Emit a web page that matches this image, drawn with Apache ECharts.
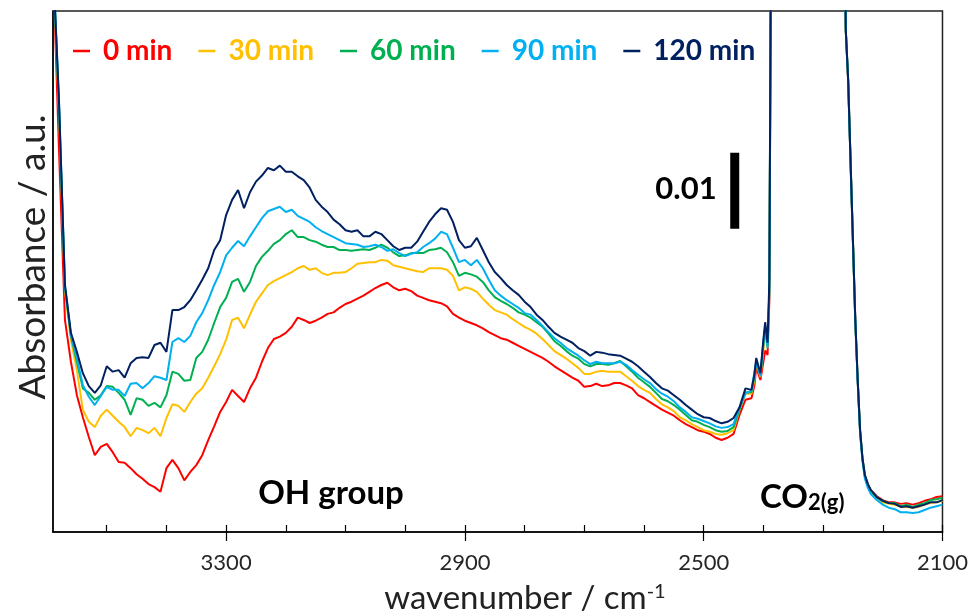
<!DOCTYPE html>
<html>
<head>
<meta charset="utf-8">
<script src="https://cdn.jsdelivr.net/npm/echarts@6/dist/echarts.min.js"></script>
<style>
  html, body { margin: 0; padding: 0; background: #fff; }
  #chart { width: 971px; height: 615px; }
</style>
</head>
<body>
<div id="chart"></div>
<script>
// wavenumber grid, cm-1 (left edge 3590, CO2 band goes off scale)
var wavenumbers = [3590,
  3580,3570,3560,3550,3540,3530,3520,3510,3500,3490,
  3480,3470,3460,3450,3440,3430,3420,3410,3400,3390,
  3380,3370,3360,3350,3340,3330,3320,3310,3300,3290,
  3280,3270,3260,3250,3240,3230,3220,3210,3200,3190,
  3180,3170,3160,3150,3140,3130,3120,3110,3100,3090,
  3080,3070,3060,3050,3040,3030,3020,3010,3000,2990,
  2980,2970,2960,2950,2940,2930,2920,2910,2900,2890,
  2880,2870,2860,2850,2840,2830,2820,2810,2800,2790,
  2780,2770,2760,2750,2740,2730,2720,2710,2700,2690,
  2680,2670,2660,2650,2640,2630,2620,2610,2600,2590,
  2580,2570,2560,2550,2540,2530,2520,2510,2500,2490,
  2480,2470,2460,2450,2440,2430,2420,
  2415,2412,2405,2400,2397,2393,2390,
  2386,2380,2300,2266,
  2262,2258,2254,2250,2246,2242,2238,2234,2230,2225,2220,
  2210,2200,2190,2180,2170,2160,2150,2140,2130,2120,2110,2100];

// absorbance in units of 0.001 a.u. (arbitrary baseline)
var abs0 = [75,
  50.3,27.9,22.4,18.0,15.1,12.5,10.1,11.2,11.6,10.5,
  9.2,9.1,8.4,7.6,7.0,6.3,5.9,5.3,8.4,9.5,
  8.4,6.8,7.9,8.8,10.1,12.1,13.9,15.8,17.1,18.7,
  17.9,17.1,18.9,20.3,22.4,24.2,25.4,25.7,26.2,27.0,
  28.2,27.9,27.5,27.8,28.2,28.7,28.9,29.5,30.0,30.3,
  30.7,31.1,31.6,32.1,32.5,32.8,32.2,31.8,32.0,31.7,
  31.1,30.8,30.5,30.3,30.1,29.7,28.7,28.2,27.8,27.5,
  27.2,26.8,26.3,25.9,25.5,25.3,24.9,24.5,24.1,23.7,
  23.3,22.9,22.4,21.8,21.3,20.8,20.3,19.9,19.1,19.2,
  19.5,19.2,19.3,19.6,19.6,19.3,18.9,18.0,17.6,17.1,
  16.6,16.1,15.7,15.3,14.7,14.2,13.8,13.4,13.2,12.9,
  12.4,12.1,12.4,12.9,15.4,17.4,17.6,
  19.3,21.7,20.0,22.4,23.9,23.3,30.5,
  100,100,100,100,
  66.0,59.3,48.7,38.2,27.7,19.8,13.2,9.6,7.4,6.2,5.5,
  4.7,4.2,3.9,3.9,3.7,3.8,3.6,3.8,4.1,4.3,4.6,4.7];

var abs30 = [75,
  55.5,31.8,25.3,21.3,16.1,14.5,13.8,15.3,16.1,15.3,
  14.5,13.8,12.6,13.7,13.4,13.0,13.7,12.6,15.0,16.8,
  16.6,15.8,17.1,18.2,18.9,20.3,21.8,23.4,25.3,27.9,
  28.2,26.8,28.6,30.3,31.4,32.5,33.0,33.4,33.8,34.2,
  34.7,35.0,34.5,34.7,34.1,33.8,34.1,34.1,34.2,34.7,
  35.3,35.4,35.5,35.5,35.8,35.7,35.1,34.9,34.7,34.5,
  34.3,34.2,34.7,34.7,34.7,34.5,33.7,31.8,32.2,32.0,
  31.6,30.7,29.9,29.2,28.9,28.6,28.0,27.5,27.0,26.6,
  26.1,25.4,24.6,23.8,23.3,22.8,22.2,21.6,20.8,20.8,
  21.1,21.2,21.1,21.1,21.1,20.5,19.9,19.2,18.7,18.3,
  17.5,16.8,16.4,15.9,15.1,14.7,14.2,13.8,13.4,13.2,
  12.9,12.8,13.0,13.4,16.1,18.2,18.2,
  20.0,22.4,20.4,23.9,26.6,24.2,31.8,
  100,100,100,100,
  66.0,59.4,48.8,38.3,27.8,19.9,13.3,9.6,7.3,6.1,5.3,
  4.5,3.9,3.7,3.6,3.3,3.3,3.2,3.3,3.6,3.8,3.9,4.1];

var abs60 = [75,
  56.2,32.2,25.8,22.4,18.9,18.3,17.4,18.0,19.2,19.1,
  18.3,17.4,15.4,17.6,17.4,16.6,17.0,16.4,18.0,21.1,
  20.8,19.9,20.0,22.9,23.7,25.3,27.5,29.6,30.8,32.9,
  33.3,31.6,32.9,35.0,36.2,37.0,37.9,38.4,39.2,39.7,
  38.8,38.8,38.4,38.2,37.8,37.5,37.5,37.1,37.1,37.0,
  37.1,37.2,37.1,37.4,37.8,37.4,36.8,36.3,36.4,36.7,
  36.7,36.7,37.1,37.2,37.4,36.8,35.5,33.7,34.1,33.9,
  33.6,32.9,31.8,30.9,30.4,30.0,29.5,28.9,28.6,28.2,
  27.6,27.0,26.1,25.1,24.5,23.8,23.2,22.8,22.1,21.8,
  22.1,22.1,22.0,22.2,22.5,21.8,21.1,20.3,19.7,19.1,
  18.3,17.5,17.2,16.7,16.1,15.4,14.7,14.5,14.1,13.8,
  13.4,13.2,13.3,13.8,16.1,18.4,18.4,
  20.4,22.6,20.7,24.6,27.1,24.5,31.8,
  100,100,100,100,
  66.1,59.5,48.9,38.4,27.9,20.0,13.4,9.7,7.5,6.3,5.5,
  4.6,4.1,3.8,3.8,3.4,3.6,3.3,3.6,3.8,4.2,4.3,4.5];

var abs90 = [75,
  56.6,32.4,25.9,22.9,19.3,17.8,16.7,17.9,19.1,18.7,
  18.7,17.9,19.5,19.6,18.9,19.6,20.5,20.3,20.0,25.0,
  25.5,25.0,25.8,27.6,28.8,30.5,32.5,34.2,36.4,37.4,
  38.3,37.6,38.9,40.1,41.3,42.2,42.5,42.8,42.1,42.4,
  41.6,41.2,40.8,40.1,39.6,39.2,38.8,38.4,38.0,37.9,
  37.8,37.5,37.6,37.8,37.5,37.0,37.2,36.7,36.3,36.6,
  36.8,37.5,38.0,38.6,39.5,39.2,37.4,35.5,35.8,35.1,
  35.8,34.7,33.2,31.8,31.1,30.5,30.0,29.5,28.8,28.6,
  27.9,27.1,26.3,25.5,24.9,24.2,23.7,23.2,22.6,22.1,
  22.4,22.2,22.2,22.2,22.4,22.0,21.3,20.7,20.1,19.6,
  18.8,18.2,17.8,17.2,16.4,15.8,15.1,14.9,14.6,14.3,
  13.9,13.7,13.8,14.2,16.4,18.2,18.6,
  21.1,22.2,20.5,25.0,27.0,24.2,31.8,
  100,100,100,100,
  66.0,59.3,48.6,38.0,27.5,19.6,13.0,9.3,7.0,5.8,5.0,
  4.2,3.6,3.2,3.0,2.6,2.6,2.5,2.6,2.9,3.2,3.4,3.6];

var abs120 = [75,
  56.8,32.5,26.2,23.7,20.9,19.2,18.3,19.3,21.8,21.1,
  21.3,20.3,22.2,22.9,23.0,22.9,24.6,24.9,23.7,29.2,
  29.2,29.6,30.5,31.8,33.2,34.7,37.1,38.4,41.7,43.7,
  45.0,42.6,44.7,46.1,46.9,47.9,47.6,48.2,47.4,47.4,
  46.8,46.3,45.3,43.7,42.8,42.1,41.1,40.5,39.7,39.5,
  39.7,38.9,38.9,39.5,39.2,38.4,37.6,37.1,37.4,37.4,
  38.2,39.5,40.8,41.8,42.6,42.4,40.8,38.4,37.4,37.6,
  38.7,37.1,35.5,34.2,33.4,32.5,31.8,31.2,30.3,29.6,
  28.6,27.9,27.0,26.2,25.7,25.3,24.9,24.2,23.8,23.2,
  23.7,23.6,23.4,23.3,23.2,22.8,22.4,21.8,21.1,20.4,
  19.6,18.9,18.6,18.0,17.4,16.7,16.1,15.5,15.1,15.0,
  14.6,14.3,14.5,15.0,16.4,18.9,18.7,
  20.7,22.9,20.9,25.3,27.6,24.9,33.2,
  100,100,100,100,
  66.1,59.5,48.9,38.4,27.9,20.0,13.4,9.7,7.5,6.3,5.5,
  4.6,4.1,3.8,3.7,3.3,3.4,3.2,3.4,3.6,3.9,3.9,4.2];

var seriesNames = ['0 min', '30 min', '60 min', '90 min', '120 min'];
var seriesColors = ['#FF0000', '#FFC000', '#00B050', '#00B0F0', '#002060'];
var seriesValues = [abs0, abs30, abs60, abs90, abs120];

var tickLabels = [3300, 2900, 2500, 2100];
var minorTicks = [3500, 3400, 3300, 3200, 3100, 3000, 2900, 2800, 2700, 2600, 2500, 2400, 2300, 2200, 2100];

// 0.01 a.u. scale bar
var scaleBar = [[2448, 39.9], [2448, 49.9]];

var FONT = 'Lato';

function pairs(vals) {
  return wavenumbers.map(function (w, i) { return [w, vals[i]]; });
}

var series = seriesNames.map(function (name, i) {
  return {
    name: name,
    type: 'line',
    data: pairs(seriesValues[i]),
    symbol: 'none',
    clip: true,
    lineStyle: { color: seriesColors[i], width: 2 },
    itemStyle: { color: seriesColors[i] }
  };
});
series.push({
  name: 'scale',
  type: 'line',
  data: scaleBar,
  symbol: 'none',
  silent: true,
  lineStyle: { color: '#000', width: 9, cap: 'butt' }
});

var chart = echarts.init(document.getElementById('chart'));
chart.setOption({
  animation: false,
  backgroundColor: '#fff',
  grid: {
    left: 53, top: 11, right: 27, bottom: 83,
    show: true, borderColor: '#222', borderWidth: 1.5
  },
  legend: {
    data: seriesNames.map(function (n, i) {
      return { name: n, textStyle: { color: seriesColors[i] } };
    }),
    left: 68, top: 32,
    icon: 'rect', itemWidth: 17, itemHeight: 2.5, itemGap: 26,
    textStyle: { fontFamily: FONT, fontWeight: 'bold', fontSize: 28, padding: [0, 0, 0, 8] }
  },
  xAxis: [{
    type: 'value', inverse: true, min: 2100, max: 3590, position: 'bottom',
    axisLine: { show: true, lineStyle: { color: '#000', width: 1.5 } },
    axisTick: { show: true, inside: true, length: 7, customValues: minorTicks, lineStyle: { color: '#000', width: 1.2 } },
    axisLabel: { show: false },
    splitLine: { show: false }
  }, {
    type: 'value', inverse: true, min: 2100, max: 3590, position: 'bottom',
    axisLine: { show: false },
    axisTick: { show: true, inside: false, length: 9, customValues: tickLabels, lineStyle: { color: '#000', width: 1.2 } },
    axisLabel: {
      show: true, customValues: tickLabels, margin: 20,
      fontFamily: FONT, fontSize: 22, color: '#262626',
      formatter: function (v) { return String(v); }
    },
    splitLine: { show: false }
  }],
  yAxis: {
    type: 'value', min: 0, max: 68.55,
    axisLine: { show: true, lineStyle: { color: '#000', width: 1.5 } },
    axisTick: { show: false },
    axisLabel: { show: false },
    splitLine: { show: false }
  },
  series: series,
  graphic: [{
    type: 'text', x: 33, y: 257, rotation: Math.PI / 2,
    style: { text: 'Absorbance / a.u.', fill: '#222', font: '37px Lato', textAlign: 'center', textVerticalAlign: 'middle' }
  }, {
    type: 'text', x: 525, y: 598,
    style: {
      text: '{a|wavenumber / cm}{b|-1}', textAlign: 'center', textVerticalAlign: 'middle',
      rich: {
        a: { fontFamily: FONT, fontSize: 33, fill: '#222' },
        b: { fontFamily: FONT, fontSize: 20, fill: '#222', verticalAlign: 'top' }
      }
    }
  }, {
    type: 'text', x: 331, y: 493,
    style: { text: 'OH group', fill: '#000', font: 'bold 33px Lato', textAlign: 'center', textVerticalAlign: 'middle' }
  }, {
    type: 'text', x: 760, y: 497,
    style: {
      text: '{a|CO}{b|2(g)}', textAlign: 'left', textVerticalAlign: 'middle',
      rich: {
        a: { fontFamily: FONT, fontWeight: 'bold', fontSize: 33, fill: '#000' },
        b: { fontFamily: FONT, fontWeight: 'bold', fontSize: 22, fill: '#000', verticalAlign: 'bottom' }
      }
    }
  }, {
    type: 'text', x: 686, y: 189,
    style: { text: '0.01', fill: '#000', font: 'bold 31px Lato', textAlign: 'center', textVerticalAlign: 'middle' }
  }]
});
</script>
</body>
</html>
